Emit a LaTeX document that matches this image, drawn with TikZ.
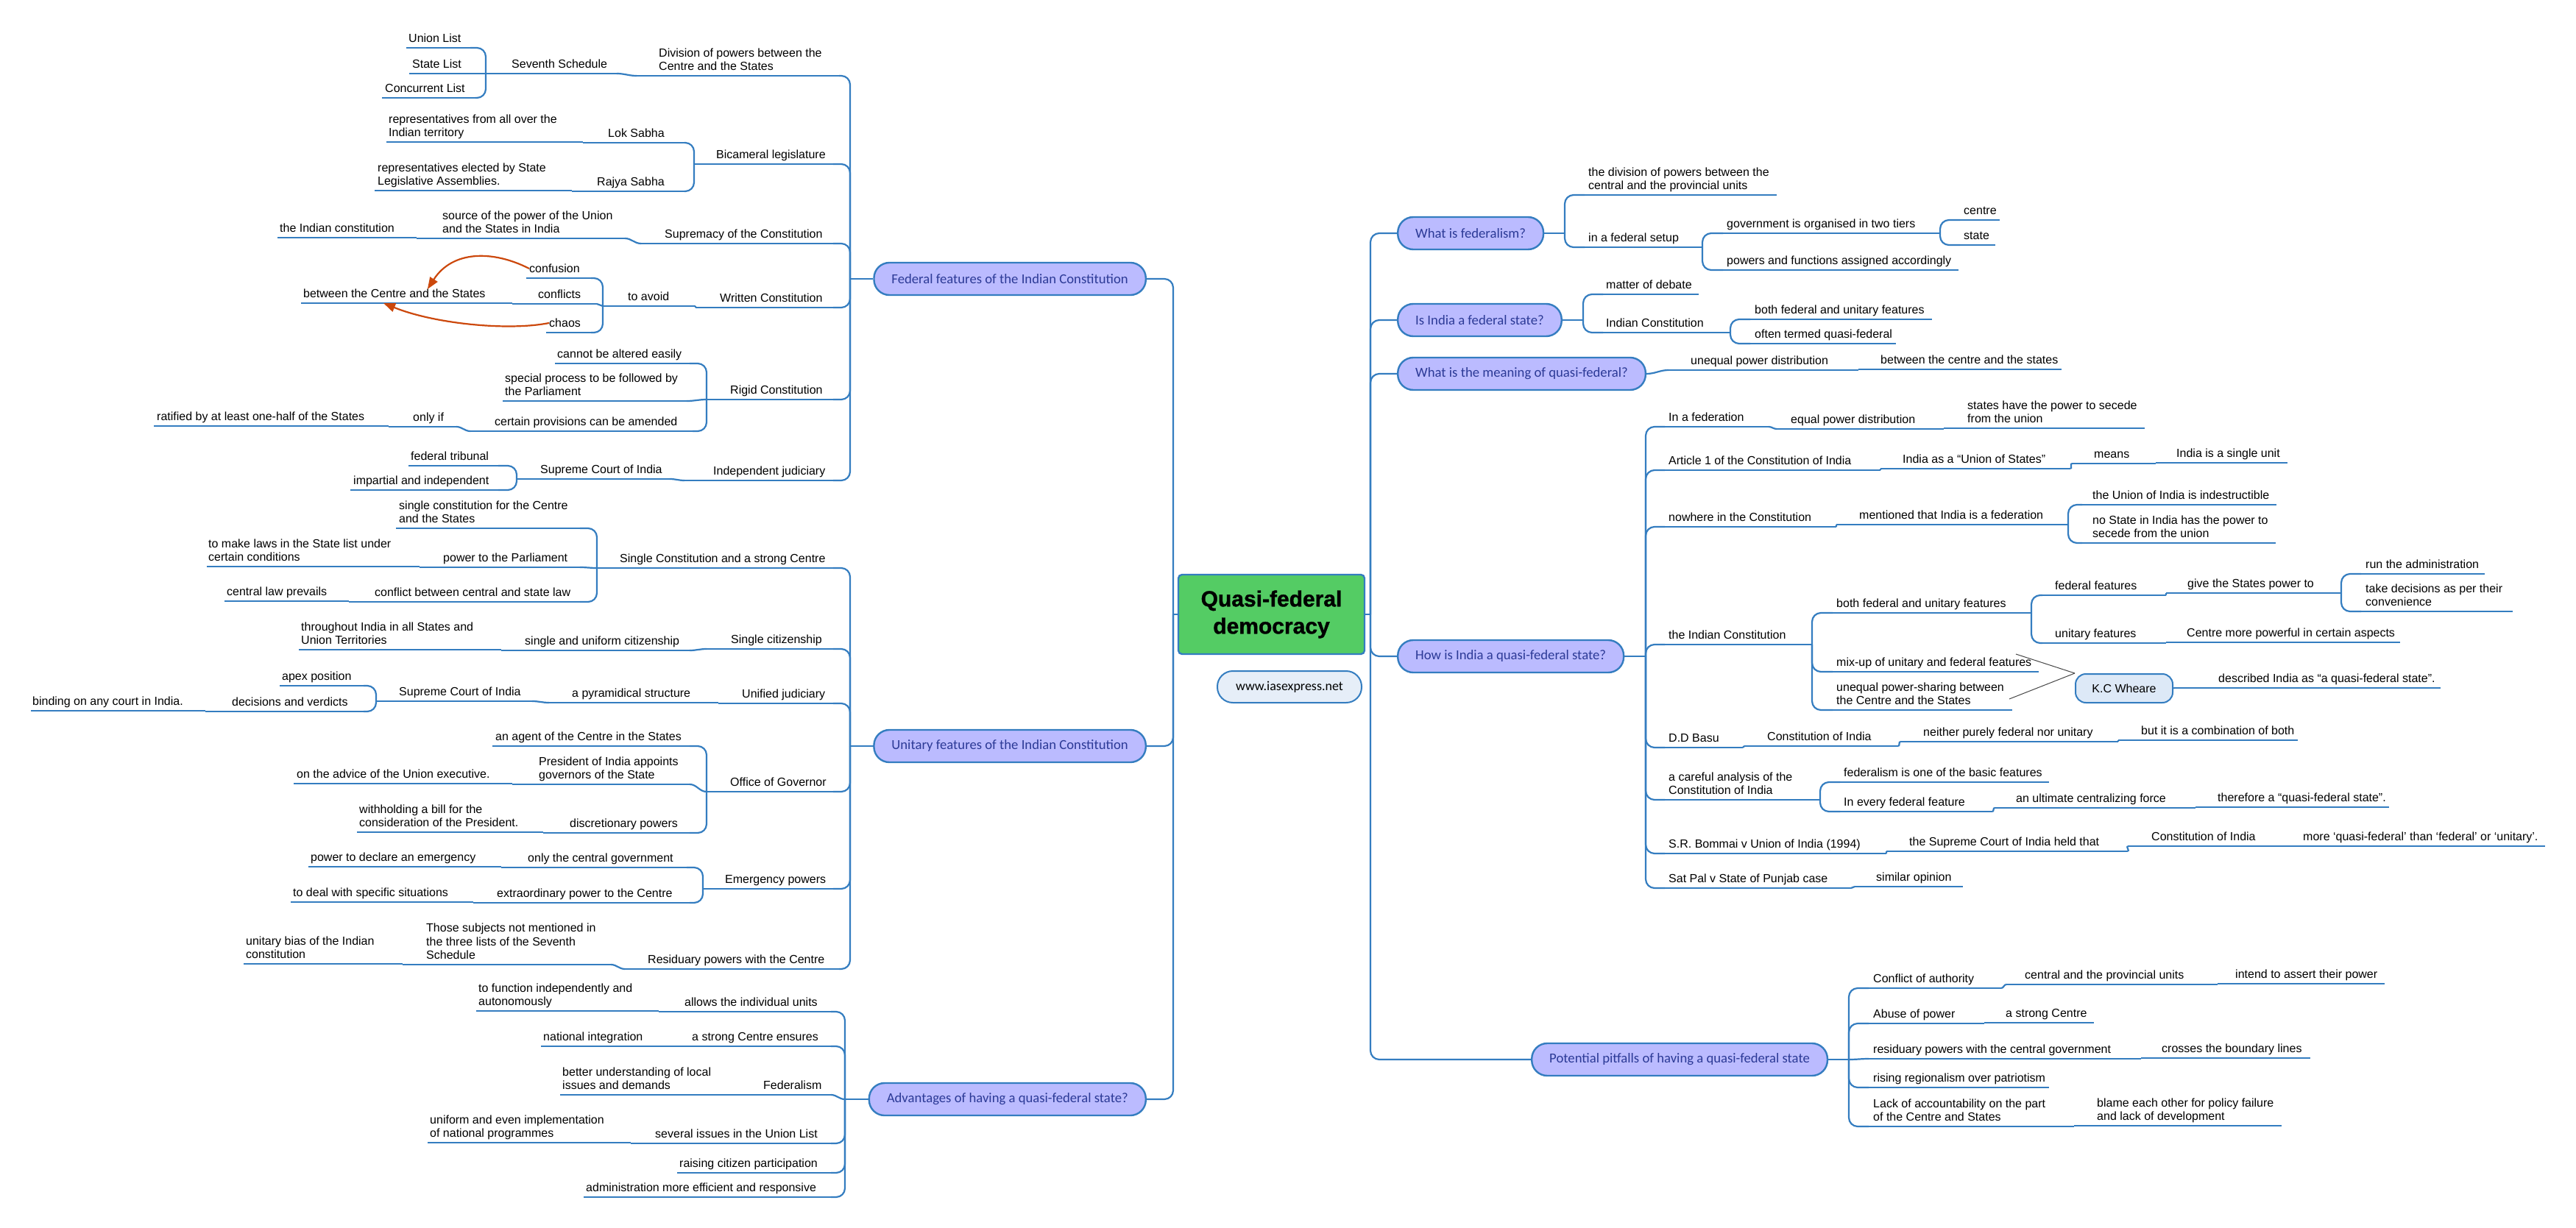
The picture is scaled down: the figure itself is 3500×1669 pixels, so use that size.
\documentclass[tikz,border=0pt]{standalone}
\usepackage{fontspec}
\setmainfont{Liberation Sans}
\newfontfamily\calfnt{Carlito}
\newfontfamily\titlefnt[BoldFeatures={FakeBold=1.2}]{Liberation Sans}
\usetikzlibrary{arrows.meta}
\definecolor{ln}{RGB}{52,125,192}
\definecolor{mainfill}{RGB}{187,187,255}
\definecolor{maintext}{RGB}{44,58,150}
\definecolor{cgreen}{RGB}{84,204,100}
\definecolor{relc}{RGB}{204,72,12}
\definecolor{wwwfill}{RGB}{230,238,248}
\definecolor{kcfill}{RGB}{221,233,247}
\definecolor{kcl}{RGB}{70,70,70}
\newcommand\leafnd[6]{%
  \node[leaf] (#1) at (#5,#4-7) {#6};
  \coordinate (#1-l) at (#2,#4);
  \coordinate (#1-r) at (#3,#4);
  \draw[ul] (#1-l) -- (#1-r);}
\newcommand\conL[2]{\draw[conn] (#1-l) |- (#2-r);}
\newcommand\conR[2]{\draw[conn] (#1-r) |- (#2-l);}
\newcommand\snL[2]{\draw[conn] (#1-l) to[out=180,in=0] (#2-r);}
\newcommand\snR[2]{\draw[conn] (#1-r) to[out=0,in=180] (#2-l);}
\begin{document}
\begin{tikzpicture}[x=1pt,y=-1pt,
  leaf/.style={inner sep=0pt, text depth=0pt, anchor=south west, align=left, font=\fontsize{16}{18.5}\selectfont},
  ul/.style={draw=ln, line width=2.2pt},
  conn/.style={draw=ln, line width=2.2pt, rounded corners=12pt},
  mainnd/.style={draw=ln, line width=2.4pt, fill=mainfill, rounded corners=21pt, minimum height=44pt, inner xsep=24pt, inner ysep=0pt, text=maintext, font=\calfnt\fontsize{18.7}{22}\selectfont},
  cnode/.style={draw=ln, line width=2.4pt, fill=cgreen, rounded corners=5pt, minimum width=253pt, minimum height=108pt, align=center, inner sep=0pt, font=\titlefnt\bfseries\fontsize{30}{37}\selectfont},
  wwwnd/.style={draw=ln, line width=2pt, fill=wwwfill, rounded corners=21pt, minimum width=196pt, minimum height=43pt, inner sep=0pt, font=\calfnt\fontsize{18}{22}\selectfont},
  kcnd/.style={draw=ln, line width=2pt, fill=kcfill, rounded corners=14pt, minimum width=132pt, minimum height=39pt, inner sep=0pt, font=\fontsize{16}{18.5}\selectfont},
  rel/.style={draw=relc, line width=2.2pt, -{Triangle[length=16pt,width=12pt]}},
  kcline/.style={draw=kcl, line width=1pt}]
\fill[white] (0,0) rectangle (3500,1669);
\useasboundingbox (0,0) rectangle (3500,1669);

% ---------- centre ----------
\node[cnode] (C) at (1727.5,835) {Quasi-federal\\democracy};
\node[wwwnd] (W) at (1752,933.5) {www.iasexpress.net};
\coordinate (tl) at (1594,835);
\coordinate (tr) at (1862,835);

% ---------- main topics ----------
\node[mainnd, anchor=east] (F) at (1558,379) {Federal features of the Indian Constitution};
\node[mainnd, anchor=east] (U) at (1558,1014) {Unitary features of the Indian Constitution};
\node[mainnd, anchor=east] (A) at (1558,1494) {Advantages of having a quasi-federal state?};
\node[mainnd, anchor=west] (R1) at (1898,317) {What is federalism?};
\node[mainnd, anchor=west] (R2) at (1898,435) {Is India a federal state?};
\node[mainnd, anchor=west] (R3) at (1898,508) {What is the meaning of quasi-federal?};
\node[mainnd, anchor=west] (R4) at (1898,892) {How is India a quasi-federal state?};
\node[mainnd, anchor=west] (R5) at (2080,1440) {Potential pitfalls of having a quasi-federal state};

\draw[conn] (C.west) -- (tl);
\draw[conn] (tl) |- (F.east);
\draw[conn] (tl) |- (U.east);
\draw[conn] (tl) |- (A.east);
\draw[conn] (C.east) -- (tr);
\draw[conn] (tr) |- (R1.west);
\draw[conn] (tr) |- (R2.west);
\draw[conn] (tr) |- (R3.west);
\draw[conn] (tr) |- (R4.west);
\draw[conn] (tr) |- (R5.west);

% ---------- Federal features ----------
\coordinate (Fs) at (1155,379);
\draw[conn] (F.west) -- (Fs);
\leafnd{f1}{865}{1140}{103}{895}{Division of powers between the\\Centre and the States}
\leafnd{f1a}{660}{838}{100}{695}{Seventh Schedule}
\leafnd{f1a1}{552}{639}{65}{555}{Union List}
\leafnd{f1a2}{556}{658}{100}{560}{State List}
\leafnd{f1a3}{519}{646}{133}{523}{Concurrent List}
\snL{f1}{f1a} \conL{f1a}{f1a1} \snL{f1a}{f1a2} \conL{f1a}{f1a3}
\leafnd{f2}{943}{1132}{223}{973}{Bicameral legislature}
\leafnd{f2a}{792}{930}{194}{826}{Lok Sabha}
\leafnd{f2a1}{525}{792}{193}{528}{representatives from all over the\\Indian territory}
\leafnd{f2b}{777}{930}{260}{811}{Rajya Sabha}
\leafnd{f2b1}{509}{777}{259}{513}{representatives elected by State\\Legislative Assemblies.}
\conL{f2}{f2a} \snL{f2a}{f2a1} \conL{f2}{f2b} \snL{f2b}{f2b1}
\leafnd{f3}{871}{1132}{331}{903}{Supremacy of the Constitution}
\leafnd{f3a}{566}{849}{324}{601}{source of the power of the Union\\and the States in India}
\leafnd{f3a1}{377}{566}{323}{380}{the Indian constitution}
\snL{f3}{f3a} \snL{f3a}{f3a1}
\leafnd{f4}{945}{1132}{418}{978}{Written Constitution}
\leafnd{f4a}{819}{945}{416}{853}{to avoid}
\leafnd{f4a1}{715}{803}{378}{719}{confusion}
\leafnd{f4a2}{696}{811}{413}{731}{conflicts}
\leafnd{f4a2a}{409}{696}{412}{412}{between the Centre and the States}
\leafnd{f4a3}{742}{803}{452}{746}{chaos}
\snL{f4}{f4a} \conL{f4a}{f4a1} \snL{f4a}{f4a2} \conL{f4a}{f4a3} \snL{f4a2}{f4a2a}
\leafnd{f5}{960}{1132}{543}{992}{Rigid Constitution}
\leafnd{f5a}{754}{937}{494}{757}{cannot be altered easily}
\leafnd{f5b}{683}{933}{545}{686}{special process to be followed by\\the Parliament}
\leafnd{f5c}{639}{941}{586}{672}{certain provisions can be amended}
\leafnd{f5c1}{528}{620}{580}{561}{only if}
\leafnd{f5c1a}{209}{528}{579}{213}{ratified by at least one-half of the States}
\conL{f5}{f5a} \snL{f5}{f5b} \conL{f5}{f5c} \snL{f5c}{f5c1} \snL{f5c1}{f5c1a}
\leafnd{f6}{930}{1132}{653}{969}{Independent judiciary}
\leafnd{f6a}{702}{910}{651}{734}{Supreme Court of India}
\leafnd{f6a1}{555}{677}{633}{558}{federal tribunal}
\leafnd{f6a2}{476}{677}{666}{480}{impartial and independent}
\snL{f6}{f6a} \conL{f6a}{f6a1} \conL{f6a}{f6a2}
\foreach \c in {f1,f2,f3,f4,f5,f6} {\draw[conn] (Fs) |- (\c-r);}
\draw[rel] (f4a1.west) .. controls (670,340) and (615,340) .. ([xshift=45pt]f4a2a.north);
\draw[rel] (f4a3.west) .. controls (690,450) and (590,440) .. ([xshift=112pt]f4a2a-l);

% ---------- Unitary features ----------
\coordinate (Us) at (1155,1014);
\draw[conn] (U.west) -- (Us);
\leafnd{u1}{811}{1132}{772}{842}{Single Constitution and a strong Centre}
\leafnd{u1a}{538}{788}{718}{542}{single constitution for the Centre\\and the States}
\leafnd{u1b}{570}{788}{771}{602}{power to the Parliament}
\leafnd{u1b1}{281}{570}{770}{283}{to make laws in the State list under\\certain conditions}
\leafnd{u1c}{474}{788}{818}{509}{conflict between central and state law}
\leafnd{u1c1}{305}{474}{817}{308}{central law prevails}
\conL{u1}{u1a} \snL{u1}{u1b} \conL{u1}{u1c} \snL{u1b}{u1b1} \snL{u1c}{u1c1}
\leafnd{u2}{960}{1132}{882}{993}{Single citizenship}
\leafnd{u2a}{681}{937}{884}{713}{single and uniform citizenship}
\leafnd{u2a1}{406}{681}{883}{409}{throughout India in all States and\\Union Territories}
\snL{u2}{u2a} \snL{u2a}{u2a1}
\leafnd{u3}{976}{1132}{956}{1008}{Unified judiciary}
\leafnd{u3a}{746}{976}{955}{777}{a pyramidical structure}
\leafnd{u3a1}{511}{723}{953}{542}{Supreme Court of India}
\leafnd{u3a1a}{380}{494}{932}{383}{apex position}
\leafnd{u3a1b}{279}{494}{967}{315}{decisions and verdicts}
\leafnd{u3a1b1}{42}{279}{966}{44}{binding on any court in India.}
\snL{u3}{u3a} \snL{u3a}{u3a1} \conL{u3a1}{u3a1a} \conL{u3a1}{u3a1b} \snL{u3a1b}{u3a1b1}
\leafnd{u4}{960}{1132}{1076}{992}{Office of Governor}
\leafnd{u4a}{669}{937}{1014}{673}{an agent of the Centre in the States}
\leafnd{u4b}{696}{937}{1066}{732}{President of India appoints\\governors of the State}
\leafnd{u4b1}{399}{696}{1065}{403}{on the advice of the Union executive.}
\leafnd{u4c}{738}{937}{1132}{774}{discretionary powers}
\leafnd{u4c1}{485}{738}{1131}{488}{withholding a bill for the\\consideration of the President.}
\conL{u4}{u4a} \snL{u4}{u4b} \conL{u4}{u4c} \snL{u4b}{u4b1} \snL{u4c}{u4c1}
\leafnd{u5}{955}{1132}{1208}{985}{Emergency powers}
\leafnd{u5a}{681}{933}{1179}{717}{only the central government}
\leafnd{u5a1}{419}{681}{1178}{422}{power to declare an emergency}
\leafnd{u5b}{643}{937}{1227}{675}{extraordinary power to the Centre}
\leafnd{u5b1}{395}{643}{1226}{398}{to deal with specific situations}
\conL{u5}{u5a} \conL{u5}{u5b} \snL{u5a}{u5a1} \snL{u5b}{u5b1}
\leafnd{u6}{849}{1140}{1317}{880}{Residuary powers with the Centre}
\leafnd{u6a}{547}{830}{1311}{579}{Those subjects not mentioned in\\the three lists of the Seventh\\Schedule}
\leafnd{u6a1}{331}{547}{1310}{334}{unitary bias of the Indian\\constitution}
\snL{u6}{u6a} \snL{u6a}{u6a1}
\foreach \c in {u1,u2,u3,u4,u5,u6} {\draw[conn] (Us) |- (\c-r);}

% ---------- Advantages ----------
\coordinate (As) at (1148,1494);
\draw[conn] (A.west) -- (As);
\leafnd{a1}{895}{1129}{1375}{930}{allows the individual units}
\leafnd{a1a}{647}{895}{1374}{650}{to function independently and\\autonomously}
\leafnd{a2}{907}{1129}{1422}{940}{a strong Centre ensures}
\leafnd{a2a}{735}{907}{1422}{738}{national integration}
\leafnd{a3}{1002}{1129}{1488}{1037}{Federalism}
\leafnd{a3a}{761}{1002}{1488}{764}{better understanding of local\\issues and demands}
\leafnd{a4}{857}{1129}{1554}{890}{several issues in the Union List}
\leafnd{a4a}{581}{857}{1553}{584}{uniform and even implementation\\of national programmes}
\leafnd{a5}{920}{1129}{1594}{923}{raising citizen participation}
\leafnd{a6}{793}{1129}{1627}{796}{administration more efficient and responsive}
\snL{a1}{a1a} \snL{a2}{a2a} \snL{a3}{a3a} \snL{a4}{a4a}
\foreach \c in {a1,a2,a4,a5,a6} {\draw[conn] (As) |- (\c-r);}
\draw[conn] (As) to[out=180,in=0] (a3-r);

% ---------- What is federalism ----------
\coordinate (R1s) at (2126,317);
\draw[conn] (R1.east) -- (R1s);
\leafnd{r1a}{2153}{2414}{265}{2158}{the division of powers between the\\central and the provincial units}
\leafnd{r1b}{2153}{2313}{336}{2158}{in a federal setup}
\leafnd{r1b1}{2341}{2636}{317}{2346}{government is organised in two tiers}
\leafnd{r1b1a}{2663}{2717}{299}{2668}{centre}
\leafnd{r1b1b}{2663}{2711}{333}{2668}{state}
\leafnd{r1b2}{2341}{2661}{367}{2346}{powers and functions assigned accordingly}
\draw[conn] (R1s) |- (r1a-l);
\draw[conn] (R1s) |- (r1b-l);
\conR{r1b}{r1b1} \conR{r1b}{r1b2} \conR{r1b1}{r1b1a} \conR{r1b1}{r1b1b}

% ---------- Is India a federal state ----------
\coordinate (R2s) at (2151,435);
\draw[conn] (R2.east) -- (R2s);
\leafnd{r2a}{2178}{2308}{400}{2182}{matter of debate}
\leafnd{r2b}{2178}{2351}{452}{2182}{Indian Constitution}
\leafnd{r2b1}{2378}{2625}{434}{2384}{both federal and unitary features}
\leafnd{r2b2}{2378}{2576}{467}{2384}{often termed quasi-federal}
\draw[conn] (R2s) |- (r2a-l);
\draw[conn] (R2s) |- (r2b-l);
\conR{r2b}{r2b1} \conR{r2b}{r2b2}

% ---------- meaning of quasi-federal ----------
\leafnd{r3a}{2267}{2525}{503}{2297}{unequal power distribution}
\leafnd{r3a1}{2525}{2801}{502}{2555}{between the centre and the states}
\draw[conn] (R3.east) to[out=0,in=180] (r3a-l);
\snR{r3a}{r3a1}

% ---------- How is India quasi-federal ----------
\coordinate (R4s) at (2236,892);
\draw[conn] (R4.east) -- (R4s);
\leafnd{h1}{2262}{2403}{580}{2267}{In a federation}
\leafnd{h1a}{2414}{2641}{583}{2433}{equal power distribution}
\leafnd{h1a1}{2641}{2914}{582}{2673}{states have the power to secede\\from the union}
\snR{h1}{h1a} \snR{h1a}{h1a1}
\leafnd{h2}{2262}{2555}{639}{2267}{Article 1 of the Constitution of India}
\leafnd{h2a}{2555}{2813}{637}{2585}{India as a “Union of States”}
\leafnd{h2a1}{2815}{2929}{630}{2845}{means}
\leafnd{h2a1a}{2929}{3108}{629}{2957}{India is a single unit}
\snR{h2}{h2a} \snR{h2a}{h2a1} \snR{h2a1}{h2a1a}
\leafnd{h3}{2262}{2495}{716}{2267}{nowhere in the Constitution}
\leafnd{h3a}{2495}{2810}{713}{2526}{mentioned that India is a federation}
\leafnd{h3a1}{2829}{3093}{686}{2843}{the Union of India is indestructible}
\leafnd{h3a2}{2829}{3092}{738}{2843}{no State in India has the power to\\secede from the union}
\snR{h3}{h3a} \conR{h3a}{h3a1} \conR{h3a}{h3a2}
\leafnd{h4}{2262}{2462}{876}{2267}{the Indian Constitution}
\leafnd{h4a}{2490}{2760}{833}{2495}{both federal and unitary features}
\leafnd{h4a1}{2775}{2943}{809}{2792}{federal features}
\leafnd{h4a1a}{2943}{3181}{806}{2972}{give the States power to}
\leafnd{h4a1a1}{3208}{3376}{780}{3214}{run the administration}
\leafnd{h4a1a2}{3208}{3414}{831}{3214}{take decisions as per their\\convenience}
\leafnd{h4a2}{2775}{2943}{874}{2792}{unitary features}
\leafnd{h4a2a}{2943}{3261}{873}{2971}{Centre more powerful in certain aspects}
\leafnd{h4b}{2490}{2770}{913}{2495}{mix-up of unitary and federal features}
\leafnd{h4c}{2490}{2734}{965}{2495}{unequal power-sharing between\\the Centre and the States}
\conR{h4}{h4a} \conR{h4}{h4b} \conR{h4}{h4c}
\conR{h4a}{h4a1} \conR{h4a}{h4a2} \snR{h4a1}{h4a1a} \snR{h4a2}{h4a2a}
\conR{h4a1a}{h4a1a1} \conR{h4a1a}{h4a1a2}
\leafnd{h5}{2262}{2368}{1016}{2267}{D.D Basu}
\leafnd{h5a}{2370}{2579}{1014}{2401}{Constitution of India}
\leafnd{h5a1}{2582}{2878}{1008}{2613}{neither purely federal nor unitary}
\leafnd{h5a1a}{2878}{3122}{1006}{2909}{but it is a combination of both}
\snR{h5}{h5a} \snR{h5a}{h5a1} \snR{h5a1}{h5a1a}
\leafnd{h6}{2262}{2473}{1087}{2267}{a careful analysis of the\\Constitution of India}
\leafnd{h6a}{2500}{2784}{1063}{2505}{federalism is one of the basic features}
\leafnd{h6b}{2500}{2707}{1103}{2505}{In every federal feature}
\leafnd{h6b1}{2710}{2983}{1098}{2739}{an ultimate centralizing force}
\leafnd{h6b1a}{2983}{3246}{1097}{3013}{therefore a “quasi-federal state”.}
\conR{h6}{h6a} \conR{h6}{h6b} \snR{h6b}{h6b1} \snR{h6b1}{h6b1a}
\leafnd{h7}{2262}{2563}{1160}{2267}{S.R. Bommai v Union of India (1994)}
\leafnd{h7a}{2563}{2891}{1157}{2594}{the Supreme Court of India held that}
\leafnd{h7a1}{2891}{3100}{1150}{2923}{Constitution of India}
\leafnd{h7a1a}{3100}{3458}{1150}{3129}{more ‘quasi-federal’ than ‘federal’ or ‘unitary’.}
\snR{h7}{h7a} \snR{h7a}{h7a1} \snR{h7a1}{h7a1a}
\leafnd{h8}{2262}{2515}{1207}{2267}{Sat Pal v State of Punjab case}
\leafnd{h8a}{2520}{2667}{1205}{2549}{similar opinion}
\snR{h8}{h8a}
\foreach \c in {h1,h2,h3,h4,h5,h6,h7,h8} {\draw[conn] (R4s) |- (\c-l);}

% ---------- K.C Wheare ----------
\node[kcnd] (KC) at (2886,935.5) {K.C Wheare};
\leafnd{kca}{2954}{3316}{935}{3014}{described India as “a quasi-federal state”.}
\draw[conn] (KC.east) -- (kca-l);
\coordinate (kc1) at (2739,889);
\coordinate (kc2) at (2730,950);
\draw[kcline] (KC.north west) -- (kc1);
\draw[kcline] (KC.north west) -- (kc2);

% ---------- Potential pitfalls ----------
\coordinate (R5s) at (2512,1440);
\draw[conn] (R5.east) -- (R5s);
\leafnd{p1}{2539}{2719}{1343}{2545}{Conflict of authority}
\leafnd{p1a}{2726}{3013}{1338}{2751}{central and the provincial units}
\leafnd{p1a1}{3013}{3240}{1337}{3037}{intend to assert their power}
\leafnd{p2}{2539}{2696}{1391}{2545}{Abuse of power}
\leafnd{p2a}{2696}{2845}{1390}{2725}{a strong Centre}
\leafnd{p3}{2539}{2909}{1439}{2545}{residuary powers with the central government}
\leafnd{p3a}{2909}{3139}{1438}{2937}{crosses the boundary lines}
\leafnd{p4}{2539}{2784}{1478}{2545}{rising regionalism over patriotism}
\leafnd{p5}{2539}{2818}{1531}{2545}{Lack of accountability on the part\\of the Centre and States}
\leafnd{p5a}{2818}{3100}{1530}{2849}{blame each other for policy failure\\and lack of development}
\snR{p1}{p1a} \snR{p1a}{p1a1} \snR{p2}{p2a} \snR{p3}{p3a} \snR{p5}{p5a}
\foreach \c in {p1,p2,p4,p5} {\draw[conn] (R5s) |- (\c-l);}
\draw[conn] (R5s) to[out=0,in=180] (p3-l);
\end{tikzpicture}
\end{document}
